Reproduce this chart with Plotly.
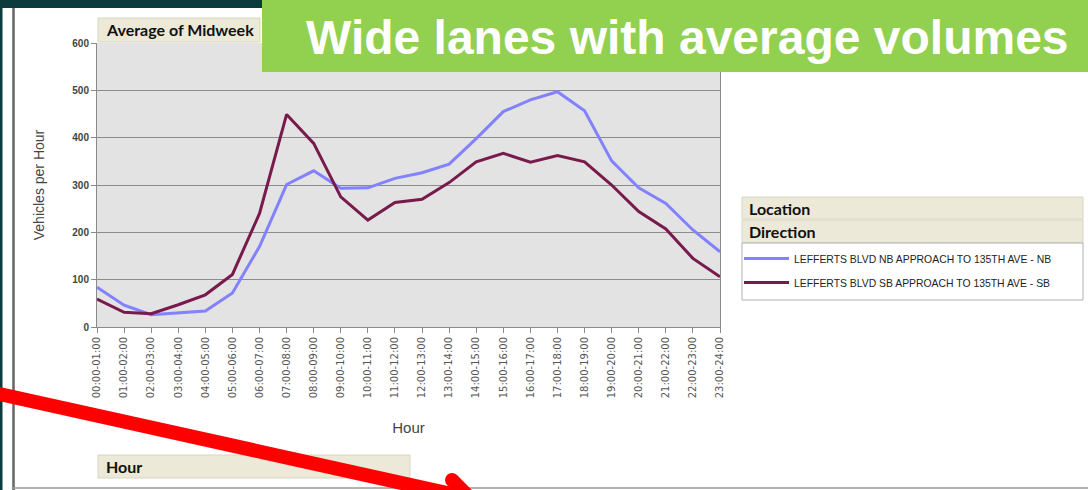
import plotly.graph_objects as go

hours = ["00:00-01:00", "01:00-02:00", "02:00-03:00", "03:00-04:00", "04:00-05:00",
         "05:00-06:00", "06:00-07:00", "07:00-08:00", "08:00-09:00", "09:00-10:00",
         "10:00-11:00", "11:00-12:00", "12:00-13:00", "13:00-14:00", "14:00-15:00",
         "15:00-16:00", "16:00-17:00", "17:00-18:00", "18:00-19:00", "19:00-20:00",
         "20:00-21:00", "21:00-22:00", "22:00-23:00", "23:00-24:00"]
nb_values = [84, 46, 26, 30, 34, 72, 170, 301, 330, 293, 294, 314, 326, 344, 398,
             455, 480, 497, 457, 351, 294, 261, 205, 159]
sb_values = [59, 31, 28, 47, 68, 111, 240, 449, 388, 275, 226, 263, 270, 305, 349,
             367, 348, 362, 349, 300, 244, 207, 145, 106]
nb_name = "LEFFERTS BLVD NB APPROACH TO 135TH AVE - NB"
sb_name = "LEFFERTS BLVD SB APPROACH TO 135TH AVE - SB"
y_ticks = [0, 100, 200, 300, 400, 500, 600]

W, H = 1088, 490
L, R, T, B = 97, 720, 43, 327


def px(x):
    return (x - L) / (R - L)


def py(y):
    return (B - y) / (B - T)


fig = go.Figure()
fig.add_trace(go.Scatter(x=hours, y=nb_values, mode="lines", name=nb_name,
                         line=dict(color="#8282ff", width=3), legendgroup="nb"))
fig.add_trace(go.Scatter(x=hours, y=sb_values, mode="lines", name=sb_name,
                         line=dict(color="#781a4c", width=3), legendgroup="sb"))

tan = "#ece9d8"
tan_line = "#d9d5c2"
shapes = []
# dark slide edges
shapes.append(dict(type="rect", xref="paper", yref="paper", x0=px(-2), x1=px(W + 2), y0=py(-2), y1=py(8),
                   fillcolor="#0c3b3d", line_width=0, layer="above"))
shapes.append(dict(type="rect", xref="paper", yref="paper", x0=px(-2), x1=px(2.5), y0=py(-2), y1=py(H + 2),
                   fillcolor="#0c3b3d", line_width=0, layer="above"))
# frame lines
shapes.append(dict(type="line", xref="paper", yref="paper", x0=px(13.5), x1=px(13.5), y0=py(8), y1=py(H),
                   line=dict(color="#666666", width=2.5), layer="above"))
shapes.append(dict(type="line", xref="paper", yref="paper", x0=px(13), x1=px(W), y0=py(488), y1=py(488),
                   line=dict(color="#9a9a9a", width=1.5), layer="above"))
# header boxes
shapes.append(dict(type="rect", xref="paper", yref="paper", x0=px(98), x1=px(260), y0=py(18), y1=py(42),
                   fillcolor=tan, line=dict(color=tan_line, width=1), layer="above"))
shapes.append(dict(type="rect", xref="paper", yref="paper", x0=px(98), x1=px(410), y0=py(455), y1=py(478),
                   fillcolor=tan, line=dict(color=tan_line, width=1), layer="above"))
shapes.append(dict(type="rect", xref="paper", yref="paper", x0=px(742), x1=px(1083), y0=py(197), y1=py(219),
                   fillcolor=tan, line=dict(color=tan_line, width=1), layer="below"))
shapes.append(dict(type="rect", xref="paper", yref="paper", x0=px(742), x1=px(1083), y0=py(220), y1=py(243),
                   fillcolor=tan, line=dict(color=tan_line, width=1), layer="below"))
shapes.append(dict(type="rect", xref="paper", yref="paper", x0=px(742), x1=px(1083), y0=py(243), y1=py(300),
                   fillcolor="white", line=dict(color="#b0b0b0", width=1), layer="below"))
# green title box
shapes.append(dict(type="rect", xref="paper", yref="paper", x0=px(262), x1=px(W + 2), y0=py(-2), y1=py(72),
                   fillcolor="#92d050", line_width=0, layer="above"))
# red pen strokes
shapes.append(dict(type="line", xref="paper", yref="paper", x0=px(-5), x1=px(465), y0=py(393), y1=py(497),
                   line=dict(color="#ff0000", width=14), layer="above"))
shapes.append(dict(type="line", xref="paper", yref="paper", x0=px(452), x1=px(476), y0=py(480), y1=py(504),
                   line=dict(color="#ff0000", width=14), layer="above"))
shapes.append(dict(type="circle", xref="paper", yref="paper", x0=px(445), x1=px(459), y0=py(473), y1=py(487),
                   fillcolor="#ff0000", line_width=0, layer="above"))

annotations = [
    dict(text="Average of Midweek", xref="paper", yref="paper", x=px(104), y=py(30),
         xanchor="left", yanchor="middle", showarrow=False,
         font=dict(family="Lato", size=16, color="#111111", weight="bold")),
    dict(text="Hour", xref="paper", yref="paper", x=px(104), y=py(466.5),
         xanchor="left", yanchor="middle", showarrow=False,
         font=dict(family="Lato", size=16, color="#111111", weight="bold")),
    dict(text="Location", xref="paper", yref="paper", x=px(747), y=py(208),
         xanchor="left", yanchor="middle", showarrow=False,
         font=dict(family="Lato", size=16, color="#111111", weight="bold")),
    dict(text="Direction", xref="paper", yref="paper", x=px(747), y=py(231.5),
         xanchor="left", yanchor="middle", showarrow=False,
         font=dict(family="Lato", size=16, color="#111111", weight="bold")),
    dict(text="Wide lanes with average volumes", xref="paper", yref="paper", x=px(1071), y=py(37),
         xanchor="right", yanchor="middle", showarrow=False,
         font=dict(family="Liberation Sans", size=48, color="#ffffff", weight="bold")),
]

fig.update_layout(
    width=W, height=H,
    margin=dict(l=L, r=W - R, t=T, b=H - B, pad=0),
    paper_bgcolor="white",
    plot_bgcolor="#e3e3e3",
    shapes=shapes,
    annotations=annotations,
    showlegend=True,
    legend=dict(x=px(739), y=py(244), xanchor="left", yanchor="top",
                bgcolor="rgba(0,0,0,0)", borderwidth=0,
                font=dict(family="Liberation Sans", size=10.4, color="#222222"),
                traceorder="grouped", tracegroupgap=5, itemwidth=45),
    xaxis=dict(
        type="category", range=[0, 23], showgrid=False,
        showline=True, linecolor="#8a8a8a", linewidth=1,
        ticks="outside", ticklen=5, tickcolor="#8a8a8a",
        tickangle=-90, tickfont=dict(family="DejaVu Sans", size=10, color="#555555"),
        title=dict(text="Hour", font=dict(family="Liberation Sans", size=15, color="#444444"), standoff=25),
    ),
    yaxis=dict(
        range=[0, 600], tickvals=y_ticks, showgrid=True, gridcolor="#8c8c8c", gridwidth=1,
        zeroline=False, showline=True, linecolor="#8a8a8a", linewidth=1, mirror=True,
        ticks="outside", ticklen=5, tickcolor="#8a8a8a",
        tickfont=dict(family="Liberation Sans", size=10, color="#444444", weight="bold"),
        title=dict(text="Vehicles per Hour", font=dict(family="Liberation Sans", size=14, color="#444444"), standoff=24),
    ),
)

fig.write_html("out.html", config={"displayModeBar": False},
               post_script="document.body.style.margin='0px';document.body.style.overflow='hidden';")
